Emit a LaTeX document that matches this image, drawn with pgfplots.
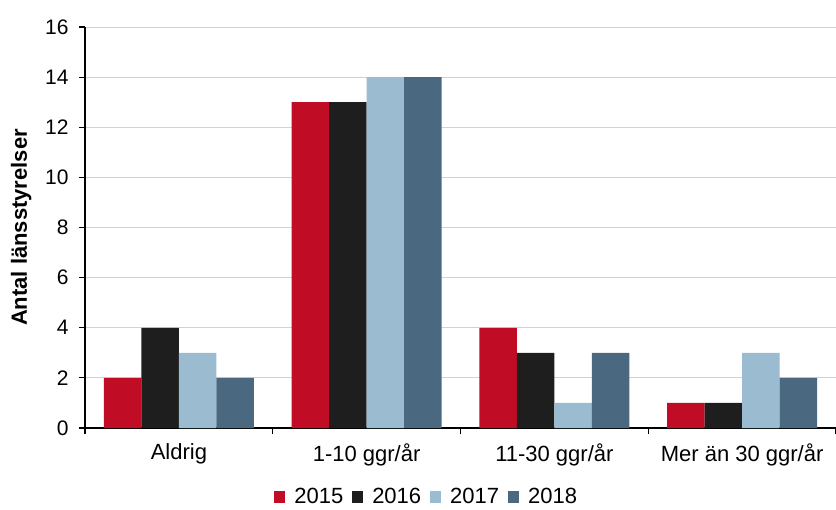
\documentclass[border=0pt]{standalone}
\usepackage{pgfplots}
\pgfplotsset{compat=1.18}
\usepackage{fontspec}
\setmainfont{Liberation Sans}
\definecolor{cRed}{HTML}{C00C24}
\definecolor{cBlack}{HTML}{1E1E1E}
\definecolor{cLight}{HTML}{9BBBD0}
\definecolor{cDark}{HTML}{4A687F}
\begin{document}
\begin{tikzpicture}
\begin{axis}[
  name=ax,
  scale only axis,
  width=751pt, height=401pt,
  xmin=-0.5, xmax=3.5,
  ymin=0, ymax=16,
  ytick={0,2,...,16},
  xtick={-0.5,0.5,1.5,2.5,3.5},
  x tick label as interval,
  xticklabels={Aldrig,1-10 ggr/år,11-30 ggr/år,Mer än 30 ggr/år},
  axis x line*=bottom,
  axis y line*=left,
  axis line style={black, line width=1.2pt},
  tick align=outside,
  major tick length=6pt,
  tick style={black, line width=1.2pt},
  ymajorgrids,
  grid style={gray!35, line width=0.9pt},
  /pgf/number format/assume math mode=true,
  yticklabel style={font=\fontsize{21}{25}\selectfont, xshift=-7pt},
  xticklabel style={font=\fontsize{22}{26}\selectfont, yshift=-6pt},
  ylabel={\bfseries Antal länsstyrelser},
  ylabel style={font=\fontsize{22}{26}\selectfont, at={(axis description cs:0,0.5)}, anchor=south, yshift=50pt},
  ybar=0pt,
  bar width=0.2,
  legend style={at={(0.455,-0.172)}, anchor=center, draw=none, legend columns=4,
    font=\fontsize{22}{26}\selectfont, column sep=7pt},
  legend image code/.code={\fill[#1] (0pt,-6pt) rectangle (11pt,6pt);},
]
\addplot[fill=cRed, draw=none, bar shift=-0.3] coordinates {(0,2) (1,13) (2,4) (3,1)};
\addplot[fill=cBlack, draw=none, bar shift=-0.1] coordinates {(0,4) (1,13) (2,3) (3,1)};
\addplot[fill=cLight, draw=none, bar shift=0.1] coordinates {(0,3) (1,14) (2,1) (3,3)};
\addplot[fill=cDark, draw=none, bar shift=0.3] coordinates {(0,2) (1,14) (2,3) (3,2)};
\legend{2015,2016,2017,2018}
\end{axis}
\pgfresetboundingbox
\path[use as bounding box] ([shift={(-85pt,-81pt)}]ax.south west) rectangle ([shift={(0pt,27pt)}]ax.north east);
\end{tikzpicture}
\end{document}
